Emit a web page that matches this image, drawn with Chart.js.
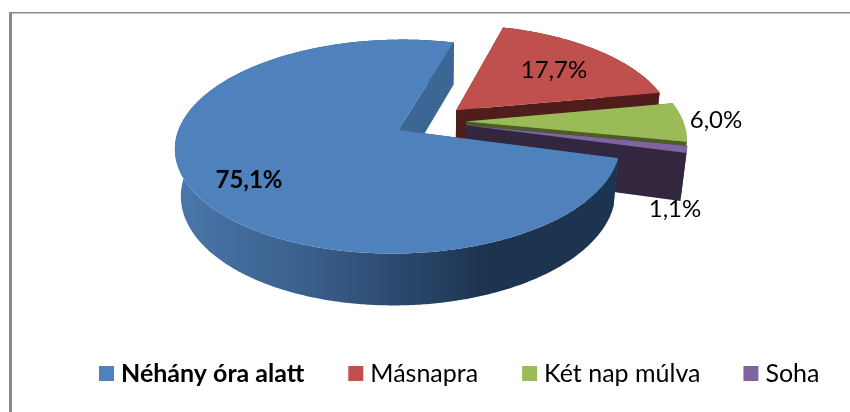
<!DOCTYPE html>
<html>
<head>
<meta charset="utf-8">
<style>html,body{margin:0;padding:0;background:#fff}canvas{display:block}</style>
<script src="https://cdn.jsdelivr.net/npm/chart.js@4"></script>
</head>
<body>
<canvas id="c" width="850" height="412"></canvas>
<script>
const categories = ["Néhány óra alatt", "Másnapra", "Két nap múlva", "Soha"];
const shares = [75.1, 17.7, 6.0, 1.1];
const shareLabels = ["75,1%", "17,7%", "6,0%", "1,1%"];
const topColors = ["#4f81bd", "#c0504d", "#9bbb59", "#8064a2"];
const wallColors = ["#3c6694", "#4f1e1c", "#4c5e25", "#33263f"];
const rimColors = [null, "#5a2523", "#7c9a42", "#33263f"];
const boldItems = [true, false, false, false];

const labelAnchors = [[249, 180], [554, 70], [716, 120], [675, 209]];
const FONT = 'Lato';
const view = { x0: 430, y0: 121.5, sx: 217, sy: 101.8, k: 0.153, m: 0.023, depth: 47.5 };

function project(X, Y, z) {
  const w = 1 - view.k * Y + view.m * z;
  return [view.x0 + view.sx * X / w, view.y0 + (view.sy * Y + view.depth * z) / w];
}

const pie3d = {
  id: 'pie3d',
  beforeDraw(chart) {
    const ctx = chart.ctx;
    ctx.save();
    ctx.fillStyle = '#fff';
    ctx.fillRect(0, 0, 850, 412);
    ctx.fillStyle = '#8a8a8a';
    ctx.fillRect(9, 12, 3, 400);
    ctx.fillRect(9, 12, 841, 1.5);
    ctx.restore();
  },
  beforeDatasetsDraw(chart) {
    const ctx = chart.ctx;
    const arcs = chart.getDatasetMeta(0).data;
    const grad = ctx.createLinearGradient(174, 0, 620, 0);
    grad.addColorStop(0, '#4a77aa');
    grad.addColorStop(0.3, '#3a5f8c');
    grad.addColorStop(0.7, '#1d3450');
    grad.addColorStop(1, '#1d3450');
    const order = [1, 2, 3, 0];
    order.forEach(i => {
      const el = arcs[i];
      const p = el.getProps(['startAngle', 'endAngle', 'outerRadius']);
      const R = p.outerRadius;
      const mid = (p.startAngle + p.endAngle) / 2;
      const d = (el.options.offset / 4) / R;
      const cx = Math.cos(mid) * d, cy = Math.sin(mid) * d;
      const rim = [];
      const steps = Math.max(4, Math.ceil((p.endAngle - p.startAngle) / 0.01));
      for (let s = 0; s <= steps; s++) {
        const a = p.startAngle + (p.endAngle - p.startAngle) * s / steps;
        rim.push([cx + Math.cos(a), cy + Math.sin(a)]);
      }
      const poly = (pts, fill) => {
        ctx.beginPath();
        pts.forEach((q, n) => n ? ctx.lineTo(q[0], q[1]) : ctx.moveTo(q[0], q[1]));
        ctx.closePath();
        ctx.fillStyle = fill;
        ctx.fill();
      };
      const wall = (q) => poly([project(cx, cy, 0), project(q[0], q[1], 0), project(q[0], q[1], 1), project(cx, cy, 1)], wallColors[i]);
      wall(rim[0]);
      const t = rim.map(q => project(q[0], q[1], 0));
      const b = rim.map(q => project(q[0], q[1], 1)).reverse();
      poly(t.concat(b), i === 0 ? grad : rimColors[i]);
      wall(rim[rim.length - 1]);
      poly([project(cx, cy, 0)].concat(t), topColors[i]);
    });
    return false;
  },
  afterDraw(chart) {
    const ctx = chart.ctx;
    ctx.save();
    ctx.fillStyle = '#000';
    ctx.textBaseline = 'middle';
    ctx.textAlign = 'center';
    shareLabels.forEach((s, i) => {
      ctx.font = (boldItems[i] ? 'bold ' : '') + '24px ' + FONT;
      ctx.fillText(s, labelAnchors[i][0], labelAnchors[i][1]);
    });
    ctx.textAlign = 'left';
    let x = 99;
    const y = 373.5;
    categories.forEach((c, i) => {
      ctx.fillStyle = topColors[i];
      ctx.fillRect(x, y - 7.5, 15, 15);
      ctx.fillStyle = '#000';
      ctx.font = (boldItems[i] ? 'bold ' : '') + '25px ' + FONT;
      ctx.fillText(c, x + 22, y);
      x += 22 + ctx.measureText(c).width + (i === 2 ? 43 : 44);
    });
    ctx.restore();
  }
};

new Chart(document.getElementById('c'), {
  type: 'pie',
  data: {
    labels: categories,
    datasets: [{
      data: shares,
      backgroundColor: topColors,
      borderWidth: 0,
      offset: 100,
      radius: 150
    }]
  },
  options: {
    responsive: false,
    animation: false,
    rotation: 105,
    plugins: { legend: { display: false }, tooltip: { enabled: false } }
  },
  plugins: [pie3d]
});
</script>
</body>
</html>
